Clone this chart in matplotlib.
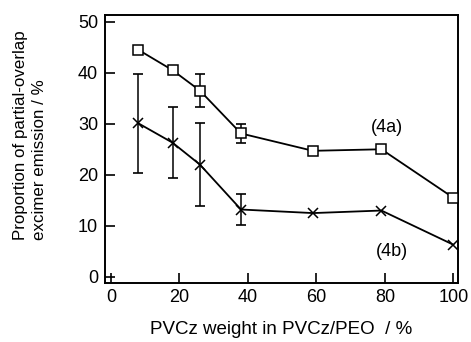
import numpy as np
from matplotlib import pyplot as plt

plt.rcParams['font.family'] = ['Liberation Sans', 'DejaVu Sans']

# PVCz weight (%)
x_a = [8, 18, 26, 38, 59, 79, 100]
x_b = [8, 18, 26, 38, 59, 79, 100]

# (4a) squares
y_a = [44.5, 40.5, 36.5, 28.1, 24.7, 25.0, 15.5]
err_a_lo = [0, 0, 3.3, 1.9, 0, 0, 0]
err_a_hi = [0, 0, 3.2, 1.8, 0, 0, 0]

# (4b) crosses
y_b = [30.1, 26.3, 22.0, 13.2, 12.5, 13.0, 6.3]
err_b_lo = [9.7, 7.0, 8.1, 3.0, 0, 0, 0]
err_b_hi = [9.6, 6.9, 8.2, 3.0, 0, 0, 0]

xticks = [0, 20, 40, 60, 80, 100]
yticks = [0, 10, 20, 30, 40, 50]

fig = plt.figure(figsize=(4.71, 3.42), dpi=100)
ax = fig.add_axes([0.223, 0.1725, 0.749, 0.7835])

def draw(x, y, lo, hi, marker):
    x = np.array(x)
    lo = np.array(lo)
    hi = np.array(hi)
    m = (lo > 0) | (hi > 0)
    ax.errorbar(x[m], np.array(y)[m], yerr=[lo[m], hi[m]], fmt='none',
                ecolor='black', elinewidth=1.1, capsize=3.5, capthick=1.2, zorder=2)
    ax.plot(x, y, color='black', lw=1.3, marker=marker, markersize=6.5,
            markerfacecolor='white', markeredgecolor='black',
            markeredgewidth=1.1, zorder=3)

draw(x_a, y_a, err_a_lo, err_a_hi, 's')
draw(x_b, y_b, err_b_lo, err_b_hi, 'x')

ax.text(80.5, 29.2, '(4a)', fontsize=13, ha='center', va='center')
ax.text(82.2, 4.9, '(4b)', fontsize=13, ha='center', va='center')

ax.set_xlim(-1.7, 101.3)
ax.set_ylim(-1.2, 51.3)
ax.set_xticks(xticks)
ax.set_yticks(yticks)
ax.tick_params(direction='in', length=7, width=1.2, labelsize=13, pad=5)
ax.tick_params(axis='x', pad=4)
for s in ax.spines.values():
    s.set_linewidth(1.4)

ax.set_xlabel('PVCz weight in PVCz/PEO  / %', fontsize=13.5, labelpad=11)
fig.text(0.064, 0.298, 'Proportion of partial-overlap\nexcimer emission / %',
         rotation=90, ha='center', va='bottom', multialignment='left',
         fontsize=12.2, linespacing=1.35)

plt.savefig('out.png', dpi=100)
